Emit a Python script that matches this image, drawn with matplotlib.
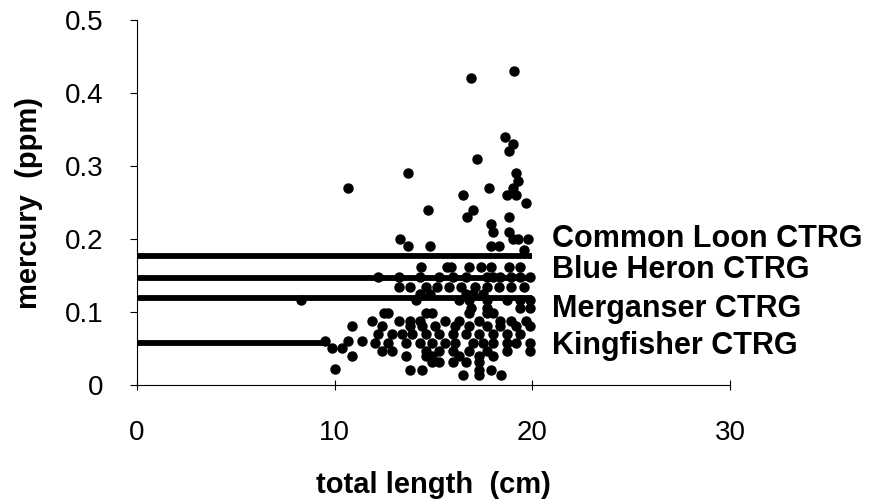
import matplotlib
matplotlib.use('Agg')
import matplotlib.pyplot as plt

plt.rcParams['font.family'] = ['Liberation Sans', 'DejaVu Sans']

# Criterii (CTRG) pentru fiecare pasare: nivel mercur si lungimea liniei
ctrg_names = ['Common Loon CTRG', 'Blue Heron CTRG', 'Merganser CTRG', 'Kingfisher CTRG']
ctrg_levels = [0.177, 0.147, 0.119, 0.058]
ctrg_x_end = [20.0, 20.0, 20.0, 9.7]
label_y = [0.200, 0.158, 0.104, 0.054]

# Puncte masurate: lungime totala (cm) si mercur (ppm)
fish_len = [
    10.7, 13.7, 16.9, 19.1, 18.6, 19.0, 18.8, 17.2, 19.2, 19.3, 17.8, 19.0, 18.7, 19.2,
    16.5, 19.7, 14.7, 17.0, 16.7, 18.8, 17.9, 18.0, 18.8, 19.0, 19.3, 19.8, 13.3, 13.7,
    14.8, 17.9, 18.3, 19.6,
    14.35, 15.7, 15.9, 16.8, 17.4, 17.9, 18.8, 19.4,
    12.2, 13.25, 14.3, 15.3, 16.0, 16.65, 17.7, 18.0, 18.35, 18.9, 19.4, 19.9,
    13.25, 13.8, 14.6, 15.2, 15.8, 16.4, 17.1, 17.7, 18.3, 18.9, 19.6,
    14.3, 14.8, 16.65, 17.0, 17.5,
    8.3, 14.1, 16.3, 16.8, 17.7, 18.7, 19.4, 19.9,
    16.9, 17.7, 19.4, 19.9,
    12.5, 12.7, 14.6, 14.95, 16.8, 17.7, 18.0,
    11.9, 13.25, 13.8, 14.3, 15.6, 16.3, 17.3, 18.35, 18.9, 19.7,
    10.87, 12.4, 13.8, 14.4, 15.1, 16.1, 16.8, 17.7, 18.35, 19.2, 19.9,
    12.2, 12.9, 13.4, 13.9, 14.6, 15.3, 16.0, 16.65, 17.3, 18.0, 18.7, 19.4,
    9.5, 10.7, 11.4, 12.06, 12.7, 13.6, 14.3, 14.95, 15.6, 16.1, 17.0, 17.5, 18.0, 18.7,
    19.2, 19.9,
    9.85, 10.36, 12.4, 12.9, 14.6, 15.3, 16.0, 16.8, 17.7, 18.7, 19.9,
    10.87, 13.6, 14.6, 14.95, 16.3, 17.3, 18.0,
    14.95, 15.3, 16.0, 16.65, 17.3,
    10.0, 13.8, 14.4, 17.3, 17.9,
    16.5, 17.3, 18.4,
]
mercury = [
    0.27, 0.29, 0.42, 0.43, 0.34, 0.33, 0.32, 0.31, 0.29, 0.28, 0.27, 0.27, 0.26, 0.26,
    0.26, 0.25, 0.24, 0.24, 0.23, 0.23, 0.22, 0.21, 0.21, 0.20, 0.20, 0.20, 0.20, 0.19,
    0.19, 0.19, 0.19, 0.185,
    0.161, 0.161, 0.161, 0.161, 0.161, 0.161, 0.161, 0.161,
    0.148, 0.148, 0.148, 0.148, 0.148, 0.148, 0.148, 0.148, 0.148, 0.148, 0.148, 0.148,
    0.134, 0.134, 0.134, 0.134, 0.134, 0.134, 0.134, 0.134, 0.134, 0.134, 0.134,
    0.124, 0.124, 0.124, 0.124, 0.124,
    0.117, 0.117, 0.117, 0.117, 0.117, 0.117, 0.117, 0.117,
    0.106, 0.106, 0.106, 0.106,
    0.099, 0.099, 0.099, 0.099, 0.099, 0.099, 0.099,
    0.088, 0.088, 0.088, 0.088, 0.088, 0.088, 0.088, 0.088, 0.088, 0.088,
    0.081, 0.081, 0.081, 0.081, 0.081, 0.081, 0.081, 0.081, 0.081, 0.081, 0.081,
    0.070, 0.070, 0.070, 0.070, 0.070, 0.070, 0.070, 0.070, 0.070, 0.070, 0.070, 0.070,
    0.060, 0.060, 0.060, 0.058, 0.058, 0.058, 0.058, 0.058, 0.058, 0.058, 0.058, 0.058,
    0.058, 0.058, 0.058, 0.058,
    0.050, 0.050, 0.047, 0.047, 0.047, 0.047, 0.047, 0.047, 0.047, 0.047, 0.047,
    0.040, 0.040, 0.040, 0.040, 0.040, 0.040, 0.040,
    0.031, 0.031, 0.031, 0.031, 0.031,
    0.022, 0.020, 0.020, 0.020, 0.020,
    0.014, 0.014, 0.014,
]

fig = plt.figure(figsize=(8.93, 5.03), dpi=100)
ax = fig.add_axes([0.1534, 0.2346, 0.664, 0.7256])

for lvl, xe in zip(ctrg_levels, ctrg_x_end):
    ax.plot([0, xe], [lvl, lvl], color='black', lw=4.2, solid_capstyle='butt', zorder=2)

ax.plot(fish_len, mercury, 'o', color='black', markersize=6.5, zorder=3)

for name, ly in zip(ctrg_names, label_y):
    ax.text(21.0, ly, name, fontsize=22, fontweight='bold', va='center', ha='left',
            clip_on=False)

ax.set_xlim(0, 30)
ax.set_ylim(0, 0.5)
ax.set_xticks([0, 10, 20, 30])
ax.set_yticks([0, 0.1, 0.2, 0.3, 0.4, 0.5])
ax.set_yticklabels(['0', '0.1', '0.2', '0.3', '0.4', '0.5'])
ax.tick_params(axis='y', direction='out', length=5, width=0.8, labelsize=20, pad=19)
ax.tick_params(axis='x', direction='inout', length=7, width=0.8, labelsize=20, pad=22)

ax.spines['top'].set_visible(False)
ax.spines['right'].set_visible(False)
for s in ['left', 'bottom']:
    ax.spines[s].set_linewidth(0.8)

ax.set_xlabel('total length  (cm)', fontsize=21, fontweight='bold', labelpad=18)
ax.set_ylabel('mercury  (ppm)', fontsize=21, fontweight='bold', labelpad=16)

plt.savefig('out.png', dpi=100)
